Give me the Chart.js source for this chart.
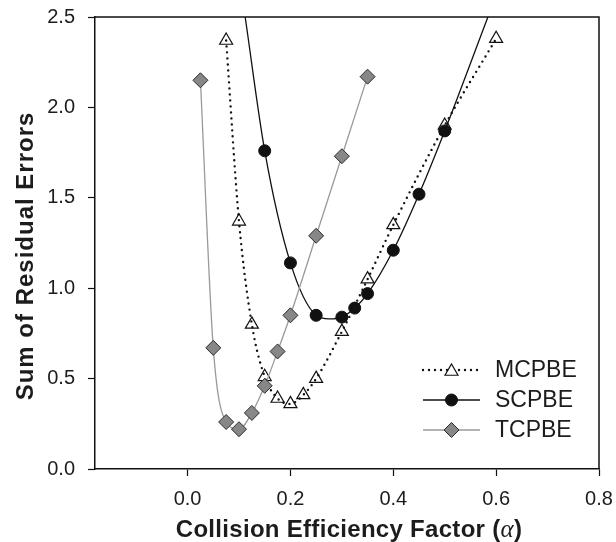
<!DOCTYPE html>
<html>
<head>
<meta charset="utf-8">
<script src="https://cdn.jsdelivr.net/npm/chart.js@4/dist/chart.umd.min.js"></script>
<style>
  html, body { margin: 0; padding: 0; background: #fff; }
  #wrap { width: 616px; height: 542px; }
</style>
</head>
<body>
<div id="wrap"><canvas id="c" width="616" height="542"></canvas></div>
<script>
// Collision efficiency factor (alpha) vs. sum of residual errors
const alphaM = [0.075, 0.1, 0.125, 0.15, 0.175, 0.2, 0.225, 0.25, 0.3, 0.35, 0.4, 0.5, 0.6];
const mcpbe  = [2.37, 1.37, 0.80, 0.51, 0.39, 0.36, 0.41, 0.50, 0.76, 1.05, 1.35, 1.90, 2.38];

const alphaS = [0.15, 0.2, 0.25, 0.3, 0.325, 0.35, 0.4, 0.45, 0.5];
const scpbe  = [1.76, 1.14, 0.85, 0.84, 0.89, 0.97, 1.21, 1.52, 1.87];

// fitted SCPBE curve, running off the top of the plot on both sides
const alphaSFit = [0.112, 0.15, 0.2, 0.25, 0.275, 0.3, 0.325, 0.35, 0.4, 0.45, 0.5, 0.584];
const scpbeFit  = [2.5, 1.76, 1.14, 0.85, 0.83, 0.84, 0.89, 0.97, 1.21, 1.52, 1.87, 2.5];

const alphaT = [0.025, 0.05, 0.075, 0.1, 0.125, 0.15, 0.175, 0.2, 0.25, 0.3, 0.35];
const tcpbe  = [2.15, 0.67, 0.26, 0.22, 0.31, 0.46, 0.65, 0.85, 1.29, 1.73, 2.17];

const xTicks = [0.0, 0.2, 0.4, 0.6, 0.8];
const yTicks = [0.0, 0.5, 1.0, 1.5, 2.0, 2.5];
const seriesNames = ['MCPBE', 'SCPBE', 'TCPBE'];

const pts = (xs, ys) => xs.map((x, i) => ({ x: x, y: ys[i] }));

const FONT = '"Liberation Sans", Arial, Helvetica, sans-serif';
const INK = '#1c1c1c';

const styles = {
  MCPBE: { line: '#111', width: 2.4, dash: [0, 6], cap: 'round', marker: 'triangle', r: 7.5, fill: '#fff', edge: '#111', edgeW: 1.2 },
  SCPBE: { line: '#111', width: 1.3, dash: [], cap: 'butt', marker: 'circle', r: 6, fill: '#111', edge: '#111', edgeW: 1 },
  TCPBE: { line: '#9a9a9a', width: 1.3, dash: [], cap: 'butt', marker: 'rectRot', r: 7.5, fill: '#878787', edge: '#2a2a2a', edgeW: 1 }
};

function drawMarker(ctx, kind, x, y, r, fill, edge, w) {
  ctx.save();
  ctx.beginPath();
  if (kind === 'triangle') {
    for (let k = 0; k < 3; k++) {
      const a = k * 2 * Math.PI / 3;
      const px = x + Math.sin(a) * r, py = y - Math.cos(a) * r;
      if (k === 0) ctx.moveTo(px, py); else ctx.lineTo(px, py);
    }
    ctx.closePath();
  } else if (kind === 'circle') {
    ctx.arc(x, y, r, 0, Math.PI * 2);
  } else {
    ctx.moveTo(x - r, y); ctx.lineTo(x, y - r); ctx.lineTo(x + r, y); ctx.lineTo(x, y + r);
    ctx.closePath();
  }
  ctx.fillStyle = fill; ctx.fill();
  ctx.lineWidth = w; ctx.strokeStyle = edge; ctx.stroke();
  ctx.restore();
}

const decor = {
  id: 'decor',
  afterDraw(chart) {
    const ctx = chart.ctx, a = chart.chartArea;
    // top and right frame lines
    ctx.save();
    ctx.strokeStyle = '#111';
    ctx.lineWidth = 1.5;
    ctx.beginPath();
    ctx.moveTo(a.left, a.top); ctx.lineTo(a.right, a.top); ctx.lineTo(a.right, a.bottom);
    ctx.stroke();
    ctx.restore();

    // legend
    const lx0 = a.right - 176, lx1 = a.right - 119, tx = a.right - 104;
    const rowY = [a.top + 353, a.top + 383, a.top + 413];
    seriesNames.forEach((name, i) => {
      const s = styles[name], y = rowY[i];
      ctx.save();
      ctx.strokeStyle = s.line; ctx.lineWidth = s.width; ctx.lineCap = s.cap;
      ctx.setLineDash(s.dash);
      ctx.beginPath(); ctx.moveTo(lx0, y); ctx.lineTo(lx1, y); ctx.stroke();
      ctx.restore();
      drawMarker(ctx, s.marker, (lx0 + lx1) / 2, name === 'MCPBE' ? y + 1.5 : y, s.r, s.fill, s.edge, s.edgeW);
      ctx.save();
      ctx.fillStyle = INK; ctx.font = '23px ' + FONT;
      ctx.textAlign = 'left'; ctx.textBaseline = 'middle';
      ctx.fillText(name, tx, y + 1);
      ctx.restore();
    });

    // x axis title with italic alpha
    ctx.save();
    ctx.fillStyle = INK;
    const boldF = 'bold 24px ' + FONT, greekF = 'italic 25px "Liberation Serif", "DejaVu Serif", serif';
    if ('letterSpacing' in ctx) ctx.letterSpacing = '0.3px';
    const parts = [['Collision Efficiency Factor (', boldF], ['\u03B1', greekF], [')', boldF]];
    let total = 0;
    parts.forEach(p => { ctx.font = p[1]; total += ctx.measureText(p[0]).width; });
    let x = 349 - total / 2;
    ctx.textBaseline = 'alphabetic'; ctx.textAlign = 'left';
    parts.forEach(p => { ctx.font = p[1]; ctx.fillText(p[0], x, 537); x += ctx.measureText(p[0]).width; });
    ctx.restore();

    // y axis title
    ctx.save();
    ctx.fillStyle = INK;
    ctx.font = 'bold 24px ' + FONT;
    if ('letterSpacing' in ctx) ctx.letterSpacing = '1px';
    ctx.translate(33, 256);
    ctx.rotate(-Math.PI / 2);
    ctx.textAlign = 'center'; ctx.textBaseline = 'alphabetic';
    ctx.fillText('Sum of Residual Errors', 0, 0);
    ctx.restore();
  }
};

const sM = styles.MCPBE, sS = styles.SCPBE, sT = styles.TCPBE;

new Chart(document.getElementById('c'), {
  type: 'scatter',
  data: {
    datasets: [
      { // MCPBE markers
        label: 'MCPBE', data: pts(alphaM, mcpbe), order: 4, showLine: false,
        pointStyle: 'triangle', pointRadius: sM.r, pointBackgroundColor: sM.fill,
        pointBorderColor: sM.edge, pointBorderWidth: sM.edgeW
      },
      { // MCPBE dotted line, over its markers
        label: 'MCPBE line', data: pts(alphaM, mcpbe), order: 3, showLine: true,
        borderColor: sM.line, borderWidth: sM.width, borderDash: sM.dash, borderCapStyle: 'round',
        cubicInterpolationMode: 'monotone', pointRadius: 0
      },
      { // SCPBE fitted curve
        label: 'SCPBE fit', data: pts(alphaSFit, scpbeFit), order: 2.5, showLine: true,
        borderColor: sS.line, borderWidth: sS.width, cubicInterpolationMode: 'monotone', pointRadius: 0
      },
      {
        label: 'SCPBE', data: pts(alphaS, scpbe), order: 2, showLine: false,
        pointStyle: 'circle', pointRadius: sS.r, pointBackgroundColor: sS.fill,
        pointBorderColor: sS.edge, pointBorderWidth: sS.edgeW
      },
      {
        label: 'TCPBE', data: pts(alphaT, tcpbe), order: 1, showLine: true,
        borderColor: sT.line, borderWidth: sT.width, cubicInterpolationMode: 'monotone',
        pointStyle: 'rectRot', pointRadius: sT.r, pointBackgroundColor: sT.fill,
        pointBorderColor: sT.edge, pointBorderWidth: sT.edgeW
      }
    ]
  },
  options: {
    responsive: false,
    animation: false,
    devicePixelRatio: 1,
    layout: { padding: { left: 0, top: 17, right: 17, bottom: 0 } },
    plugins: { legend: { display: false }, tooltip: { enabled: false } },
    scales: {
      x: {
        type: 'linear', min: -0.18, max: 0.8,
        afterBuildTicks: sc => { sc.ticks = xTicks.map(v => ({ value: v })); },
        afterFit: sc => { sc.height = 73; sc.paddingLeft = 0; sc.paddingRight = 0; },
        grid: { drawOnChartArea: false, tickLength: 7, tickColor: '#111', tickWidth: 1.2 },
        border: { display: true, color: '#111', width: 1.5 },
        ticks: { color: INK, font: { family: FONT, size: 20 }, padding: 11, maxRotation: 0,
                 callback: v => Number(v).toFixed(1) }
      },
      y: {
        type: 'linear', min: 0, max: 2.5,
        afterBuildTicks: sc => { sc.ticks = yTicks.map(v => ({ value: v })); },
        afterFit: sc => { sc.width = 95; sc.paddingTop = 0; sc.paddingBottom = 0; },
        grid: { drawOnChartArea: false, tickLength: 7, tickColor: '#111', tickWidth: 1.2 },
        border: { display: true, color: '#111', width: 1.5 },
        ticks: { color: INK, font: { family: FONT, size: 20 }, padding: 13,
                 callback: v => Number(v).toFixed(1) }
      }
    }
  },
  plugins: [decor]
});
</script>
</body>
</html>
